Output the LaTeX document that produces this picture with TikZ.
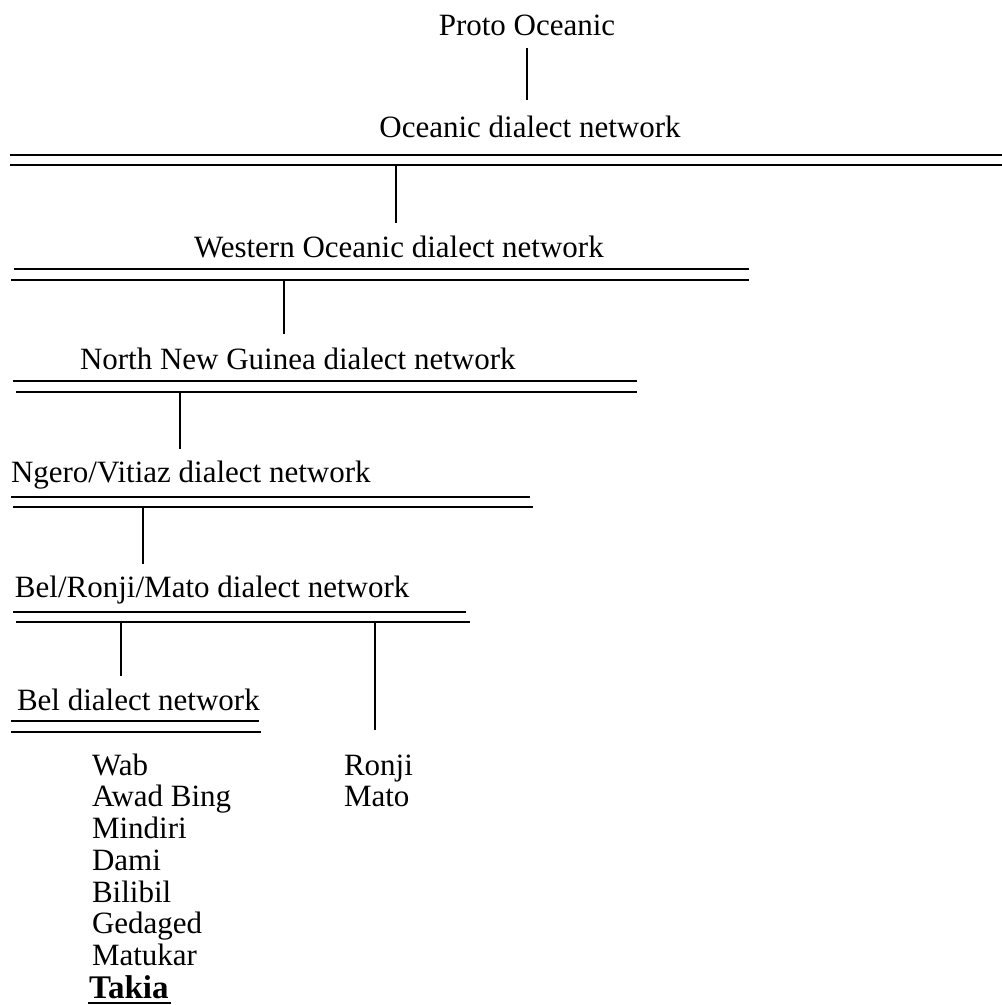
\documentclass[tikz,border=0pt]{standalone}
\usepackage{fontspec}
\setmainfont{Liberation Serif}
\begin{document}
\begin{tikzpicture}[x=1pt,y=-1pt,
  lbl/.style={inner sep=0pt,outer sep=0pt,anchor=base west,font=\fontsize{31}{33}\selectfont},
  bar/.style={line width=2.5pt},
  stem/.style={line width=1.9pt}]
\useasboundingbox (0,0) rectangle (1002,1005);
% labels
\node[lbl,anchor=base] (proto) at (527,35) {Proto Oceanic};
\node[lbl,anchor=base] (oce) at (530,137) {Oceanic dialect network};
\node[lbl] (west) at (194,257) {Western Oceanic dialect network};
\node[lbl] (nng) at (80,369) {North New Guinea dialect network};
\node[lbl] (ngero) at (11,482) {Ngero/Vitiaz dialect network};
\node[lbl] (brm) at (15,597) {Bel/Ronji/Mato dialect network};
\node[lbl] (bel) at (17,710) {Bel dialect network};
\node[lbl] (wab) at (92,775) {Wab};
\node[lbl] (awad) at (92,806) {Awad Bing};
\node[lbl] (mind) at (92,838) {Mindiri};
\node[lbl] (dami) at (92,870) {Dami};
\node[lbl] (bili) at (92,902) {Bilibil};
\node[lbl] (geda) at (92,933) {Gedaged};
\node[lbl] (matu) at (92,965) {Matukar};
\node[lbl,font=\fontsize{33}{34}\selectfont\bfseries] (takia) at (89,998.5) {Takia};
\node[lbl] (ronji) at (344,775) {Ronji};
\node[lbl] (mato) at (344,806) {Mato};
\coordinate (tul) at (88,1003);
\coordinate (tur) at (171,1003);
\draw[line width=1.3pt] (tul) -- (tur);
% double bars
\coordinate (b1a) at (10,155);  \coordinate (b1b) at (1002,155);
\coordinate (b1c) at (10,165);  \coordinate (b1d) at (1002,165);
\coordinate (b2a) at (14,269);  \coordinate (b2b) at (749,269);
\coordinate (b2c) at (11,280);  \coordinate (b2d) at (749,280);
\coordinate (b3a) at (13,381);  \coordinate (b3b) at (637,381);
\coordinate (b3c) at (16,392);  \coordinate (b3d) at (637,392);
\coordinate (b4a) at (11,497);  \coordinate (b4b) at (530,497);
\coordinate (b4c) at (13,507);  \coordinate (b4d) at (533,507);
\coordinate (b5a) at (13,612);  \coordinate (b5b) at (466,612);
\coordinate (b5c) at (16,622);  \coordinate (b5d) at (470,622);
\coordinate (b6a) at (11,721);  \coordinate (b6b) at (259,721);
\coordinate (b6c) at (11,732);  \coordinate (b6d) at (261,732);
\foreach \b in {b1,b2,b3,b4,b5,b6}{
  \draw[bar] (\b a) -- (\b b);
  \draw[bar] (\b c) -- (\b d);
}
% stems
\coordinate (v0a) at (527,48);  \coordinate (v0b) at (527,100);
\coordinate (v1a) at (396,165); \coordinate (v1b) at (396,223);
\coordinate (v2a) at (284,280); \coordinate (v2b) at (284,334);
\coordinate (v3a) at (180,392); \coordinate (v3b) at (180,449);
\coordinate (v4a) at (143,507); \coordinate (v4b) at (143,564);
\coordinate (v5a) at (121,622); \coordinate (v5b) at (121,676);
\coordinate (v6a) at (375,622); \coordinate (v6b) at (375,730);
\foreach \v in {v0,v1,v2,v3,v4,v5,v6}{
  \draw[stem] (\v a) -- (\v b);
}
\end{tikzpicture}
\end{document}
